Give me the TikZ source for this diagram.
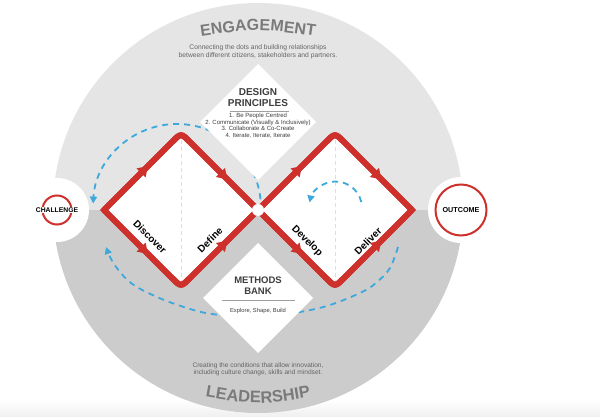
\documentclass[tikz,border=0pt]{standalone}
\usepackage{fontspec}
\setmainfont{Liberation Sans}
\usetikzlibrary{arrows.meta,decorations.markings,decorations.text}
\definecolor{redc}{RGB}{206,49,44}
\definecolor{bluec}{RGB}{60,168,220}
\definecolor{lightg}{RGB}{229,229,229}
\definecolor{darkg}{RGB}{204,204,204}
\definecolor{titleg}{RGB}{122,122,122}
\definecolor{textg}{RGB}{100,100,100}
\definecolor{headg}{RGB}{62,62,62}
\definecolor{vline}{RGB}{222,222,222}
\begin{document}
\begin{tikzpicture}[x=1pt,y=-1pt,
  redline/.style={draw=redc, line width=6pt, line join=miter},
  redarrows/.style={postaction={decorate}, decoration={markings,
     mark=at position 0.29 with {\arrow{Triangle[width=12pt,length=10pt]}},
     mark=at position 0.80 with {\arrow{Triangle[width=12pt,length=10pt]}}}},
  bluedash/.style={draw=bluec, line width=1.8pt, dash pattern=on 6pt off 5pt, -{Triangle[width=7pt,length=7pt]}},
  stagelbl/.style={font=\fontsize{10}{10}\selectfont\bfseries, text=black, inner sep=0pt},
  headlbl/.style={font=\fontsize{10}{11}\selectfont\bfseries, text=headg, align=center, inner sep=0pt},
  smalllbl/.style={font=\fontsize{6}{6.7}\selectfont, text=headg, align=center, inner sep=0pt},
  subtitle/.style={font=\fontsize{6.7}{7.8}\selectfont, text=textg, align=center, inner sep=0pt},
  divider/.style={draw=gray!75, line width=0.7pt},
  endlbl/.style={font=\bfseries, text=black, inner sep=0.8pt}
]
\useasboundingbox (0,0) rectangle (600,417);
\fill[white] (0,0) rectangle (600,417);
\shade[top color=white, bottom color=black!6] (0,400) rectangle (600,417);

% big circle, two halves
\begin{scope}
  \clip (258,208) circle[radius=205];
  \fill[lightg] (0,0) rectangle (600,210);
  \fill[darkg] (0,210) rectangle (600,417);
\end{scope}

% titles
\path[decorate, decoration={text along path, text align=center,
  text={|\fontsize{16}{16}\selectfont\bfseries\color{titleg}|ENGAGEMENT}}]
  (190,38) .. controls (258,28) .. (326,38);
\path[decorate, decoration={text along path, text align=center,
  text={|\fontsize{16.5}{16.5}\selectfont\bfseries\color{titleg}|LEADERSHIP}}]
  (190,394) .. controls (258,406) .. (326,394);
\node[subtitle] (engsub) at (258,52) {Connecting the dots and building relationships\\between different citizens, stakeholders and partners.};
\node[subtitle, font=\fontsize{6.6}{7.5}\selectfont] (leadsub) at (258,369.5) {Creating the conditions that allow innovation,\\including culture change, skills and mindset.};

% challenge and outcome
\fill[white] (57,210) circle[radius=32];
\fill[white] (461,210) circle[radius=33];
\draw[redc, line width=2pt] (57,210) circle[radius=14.5];
\draw[redc, line width=2pt] (461,210) circle[radius=25.5];
\node[endlbl, font=\fontsize{6.8}{7}\selectfont\bfseries, fill=white] (challenge) at (57,210) {CHALLENGE};
\node[endlbl, font=\fontsize{7.2}{7.5}\selectfont\bfseries] (outcome) at (461,210) {OUTCOME};

% blue dashed loops (under the diamonds)
\draw[bluedash] (177,208) ++(-6:84) arc[start angle=-6, end angle=-177, radius=84];
\draw[bluedash] plot[smooth, tension=0.6] coordinates {(398,247) (390,268) (377,282) (362,292) (330,305) (300,312) (258,318) (212,314) (187,308) (157,297) (131,283) (114,264) (106,247)};

% white diamonds
\fill[white] (258,64) -- (316,122) -- (258,180) -- (200,122) -- cycle;
\fill[white] (258,243) -- (313,298) -- (258,353) -- (203,298) -- cycle;
\node[headlbl] (dphead) at (258,97.2) {DESIGN\\PRINCIPLES};
\coordinate (dpl1) at (230,111);
\coordinate (dpl2) at (289,111);
\draw[divider] (dpl1) -- (dpl2);
\node[smalllbl] (dplist) at (258,125.7) {1. Be People Centred\\2. Communicate (Visually \& Inclusively)\\3. Collaborate \& Co-Create\\4. Iterate, Iterate, Iterate};
\node[headlbl, font=\fontsize{9.5}{11}\selectfont\bfseries] (mbhead) at (258,286) {METHODS\\BANK};
\coordinate (mbl1) at (222,300);
\coordinate (mbl2) at (295,300);
\draw[divider] (mbl1) -- (mbl2);
\node[smalllbl, font=\fontsize{5.8}{7}\selectfont] (mblist) at (258,311) {Explore, Shape, Build};

% red diamonds: fill
\fill[white] (104,210) -- (172,142) .. controls (181,133) .. (190,142) -- (258,210) -- (190,278) .. controls (181,287) .. (172,278) -- cycle;
\fill[white] (258,210) -- (326,142) .. controls (335,133) .. (344,142) -- (412,210) -- (344,278) .. controls (335,287) .. (326,278) -- cycle;
% center dashed guides
\coordinate (g1t) at (181,140); \coordinate (g1b) at (181,282);
\coordinate (g2t) at (335,140); \coordinate (g2b) at (335,282);
\draw[vline, line width=0.8pt, dash pattern=on 4pt off 3pt] (g1t) -- (g1b);
\draw[vline, line width=0.8pt, dash pattern=on 4pt off 3pt] (g2t) -- (g2b);
% inner loop
\draw[bluedash] (335.5,208) ++(-13:26.5) arc[start angle=-13, end angle=-168, radius=26.5];
% outlines
\draw[redline] (104,210) -- (172,142) .. controls (181,133) .. (190,142) -- (258,210) -- (190,278) .. controls (181,287) .. (172,278) -- cycle;
\draw[redline] (258,210) -- (326,142) .. controls (335,133) .. (344,142) -- (412,210) -- (344,278) .. controls (335,287) .. (326,278) -- cycle;
% arrows on the edges
\draw[redline, redarrows] (104,210) -- (172,142) .. controls (181,133) .. (190,142) -- (258,210);
\draw[redline, redarrows] (104,210) -- (172,278) .. controls (181,287) .. (190,278) -- (258,210);
\draw[redline, redarrows] (258,210) -- (326,142) .. controls (335,133) .. (344,142) -- (412,210);
\draw[redline, redarrows] (258,210) -- (326,278) .. controls (335,287) .. (344,278) -- (412,210);
% junction
\fill[white] (258,210) circle[radius=6];

% stage labels
\node[stagelbl, rotate=-45] (discover) at (150,237) {Discover};
\node[stagelbl, rotate=45] (define) at (210,240) {Define};
\node[stagelbl, rotate=-45] (develop) at (307,241) {Develop};
\node[stagelbl, rotate=45] (deliver) at (368,241) {Deliver};
\end{tikzpicture}
\end{document}
